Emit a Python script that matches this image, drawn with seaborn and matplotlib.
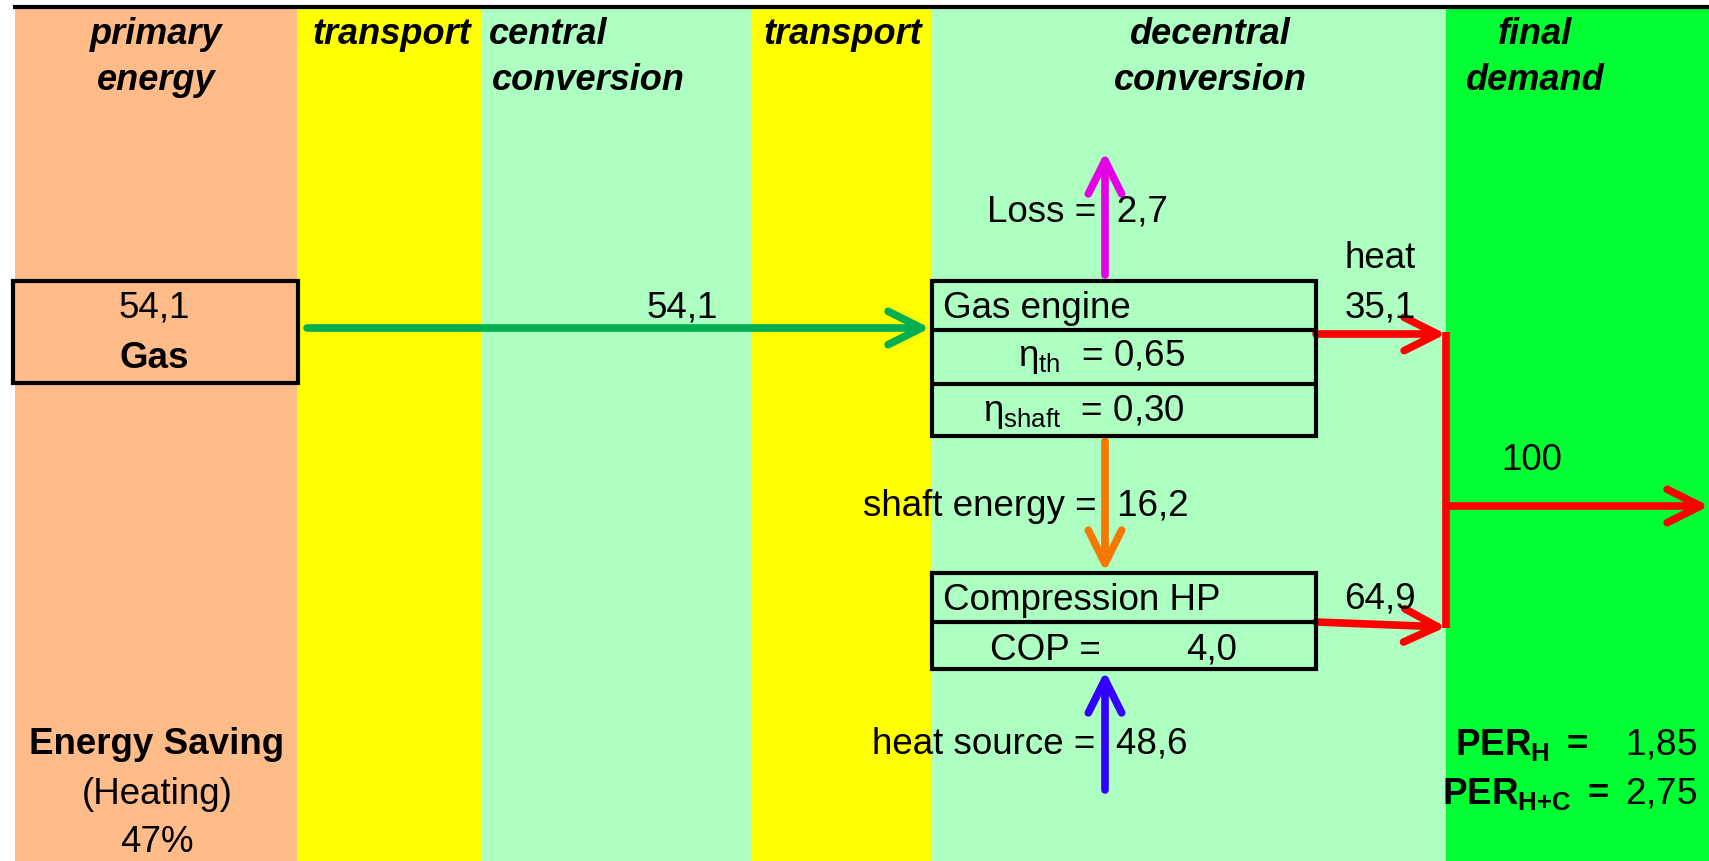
import matplotlib
matplotlib.use("Agg")
import matplotlib.pyplot as plt
from matplotlib import font_manager
from matplotlib.patches import Rectangle
import seaborn as sns

# --- data -------------------------------------------------------------
stage_labels = ["primary\nenergy", "transport", "central\nconversion",
                "transport", "decentral\nconversion", "final\ndemand"]
flow_names = ["gas", "loss", "engine_heat", "shaft", "heat_source", "hp_heat", "demand"]
flow_values = [54.1, 2.7, 35.1, 16.2, 48.6, 64.9, 100]
eta_names = ["th", "shaft"]
eta_values = [0.65, 0.30]
cop_value = [4.0]
per_names = ["H", "H{+}C"]
per_values = [1.85, 2.75]
saving_pct = [47]

flows = dict(zip(flow_names, flow_values))


def de(v, nd=1):
    # german decimal comma
    return f"{v:.{nd}f}".replace(".", ",")


sns.set_theme(style="white")
plt.rcParams["font.family"] = ["Liberation Sans", "DejaVu Sans"]
plt.rcParams["text.color"] = "black"
plt.rcParams["mathtext.fontset"] = "custom"
plt.rcParams["mathtext.rm"] = "Liberation Sans"
plt.rcParams["mathtext.it"] = "Liberation Sans:italic"
plt.rcParams["mathtext.bf"] = "Liberation Sans:bold"

# condensed header font if there is one
try:
    font_manager.findfont(font_manager.FontProperties(family="Liberation Sans Narrow"),
                          fallback_to_default=False)
    head_family, head_size = ["Liberation Sans Narrow", "Liberation Sans"], 30
except ValueError:
    head_family, head_size = ["Liberation Sans"], 26

W, H = 1709, 861
fig = plt.figure(figsize=(W / 100, H / 100), dpi=100)
ax = fig.add_axes([0, 0, 1, 1])
ax.set_xlim(0, W)
ax.set_ylim(H, 0)
ax.axis("off")

# --- background stages ------------------------------------------------
band_edges = [15, 297, 481, 752, 932, 1446, 1709]
band_colors = ["#FFBB88", "#FFFF00", "#AEFFC2", "#FFFF00", "#AEFFC2", "#00FF33"]
for i, c in enumerate(band_colors):
    ax.fill_between([band_edges[i], band_edges[i + 1]], 9, H, color=c, lw=0, zorder=0)
ax.plot([13, W], [7, 7], color="black", lw=3, solid_capstyle="butt")

head_pos = [(156, "center"), (392, "center"), (489, "left"),
            (843, "center"), (1210, "center"), (1535, "center")]
for lab, (hx, ha) in zip(stage_labels, head_pos):
    for j, ln in enumerate(lab.split("\n")):
        x = hx + (3 if (ha == "left" and j == 1) else 0)
        ax.text(x, 34 + 46 * j, ln, ha=ha, va="center", fontsize=head_size,
                family=head_family, fontweight="bold", fontstyle="italic")

FS = 26.5
LW_BOX = 3
DY = 5


def label(x, y, s, ha="center", **kw):
    ax.text(x, y + DY, s, ha=ha, va="center", fontsize=FS, zorder=4, **kw)


def box(x0, y0, x1, y1, dividers=()):
    ax.add_patch(Rectangle((x0, y0), x1 - x0, y1 - y0, fill=False,
                           ec="black", lw=LW_BOX, zorder=3))
    for d in dividers:
        ax.plot([x0, x1], [d, d], color="black", lw=LW_BOX, zorder=3)


def arrow(p0, p1, color):
    ax.annotate("", xy=p1, xytext=p0,
                arrowprops=dict(arrowstyle="->,head_length=1.2,head_width=0.6",
                                color=color, lw=5.5, mutation_scale=20,
                                shrinkA=0, shrinkB=0, capstyle="round",
                                joinstyle="round"), zorder=2)


# --- primary energy gas -----------------------------------------------
box(13, 281, 298, 383)
label(154, 303, de(flows["gas"]))
label(154, 353, "Gas", fontweight="bold")

arrow((307, 328), (930, 328), "#00B050")
label(682, 303, de(flows["gas"]))

# --- gas engine -------------------------------------------------------
box(932, 281, 1316, 436, dividers=(330, 384))
label(943, 303, "Gas engine", ha="left")
for k, (nm, ev) in enumerate(zip(eta_names, eta_values)):
    label(1185, 352 + 55 * k, "η$_{\\mathrm{" + nm + "}}$  = " + de(ev, 2), ha="right")

arrow((1105, 275), (1105, 152), "#E600E6")
label(1077, 207, f"Loss =  {de(flows['loss'])}")

arrow((1316, 334), (1446, 334), "#FF0000")
label(1380, 254, "heat")
label(1380, 303, de(flows["engine_heat"]))

arrow((1105, 441), (1105, 572), "#F77800")
label(1026, 502, f"shaft energy =  {de(flows['shaft'])}")

# --- heat pump --------------------------------------------------------
box(932, 573, 1316, 669, dividers=(622,))
label(943, 595, "Compression HP", ha="left")
label(990, 645, "COP =", ha="left")
label(1237, 645, de(cop_value[0]), ha="right")

arrow((1105, 790), (1105, 671), "#3300FF")
label(1030, 739, f"heat source =  {de(flows['heat_source'])}")

arrow((1316, 622), (1446, 627), "#FF0000")
label(1380, 594, de(flows["hp_heat"]))

# --- final demand -----------------------------------------------------
ax.plot([1446, 1446], [332, 628], color="#FF0000", lw=5.5, solid_capstyle="butt", zorder=2)
arrow((1446, 506), (1709, 506), "#FF0000")
label(1532, 455, f"{flows['demand']:d}")

per_txt = [r"$\mathbf{PER_{" + per_names[0] + r"}\ =}$   " + de(per_values[0], 2),
           r"$\mathbf{PER_{" + per_names[1] + r"}\ =}$ " + de(per_values[1], 2)]
for k, t in enumerate(per_txt):
    label(1697, 740 + 49 * k, t, ha="right")

# --- saving -----------------------------------------------------------
label(157, 740, "Energy Saving", fontweight="bold")
label(157, 790, "(Heating)")
label(157, 837, f"{saving_pct[0]}%")

fig.savefig("out.png", dpi=100)
